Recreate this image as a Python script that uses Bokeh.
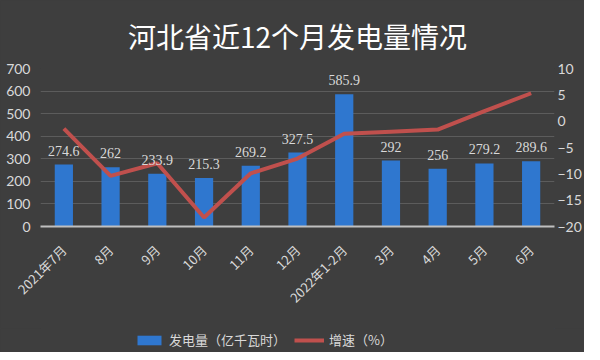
from bokeh.plotting import figure
from bokeh.models import (ColumnDataSource, FactorRange, Range1d, LinearAxis, SingleIntervalTicker,
                          LabelSet, Legend, LegendItem, Title)
from bokeh.layouts import column
from bokeh.embed import file_html
from bokeh.resources import INLINE
import math

months = ["2021年7月", "8月", "9月", "10月", "11月", "12月", "2022年1-2月", "3月", "4月", "5月", "6月"]
generation = [274.6, 262, 233.9, 215.3, 269.2, 327.5, 585.9, 292, 256, 279.2, 289.6]
growth = [-1.4, -10.4, -8.0, -18.3, -9.9, -7.1, -2.4, -2.0, -1.6, 1.9, 5.3]
gen_labels = ["274.6", "262", "233.9", "215.3", "269.2", "327.5", "585.9", "292", "256", "279.2", "289.6"]
series_names = ["发电量（亿千瓦时）", "增速（%）"]

BG = "#3e3e3e"
TXT = "#d9d9d9"
BAR = "#2f77cf"
LINE = "#c0504d"
CJK = "Noto Sans CJK SC"
NUM = "Lato"

src = ColumnDataSource(dict(m=months, g=generation, r=growth, lab=gen_labels))

p = figure(width=584, height=328, x_range=FactorRange(*months), y_range=Range1d(0, 700),
           output_backend="svg", toolbar_location=None,
           min_border_left=40, min_border_right=30, min_border_top=64, min_border_bottom=102)
p.background_fill_color = BG
p.border_fill_color = BG
p.outline_line_color = None
p.extra_y_ranges = {"pct": Range1d(-20, 10)}

p.title = Title(text="河北省近12个月发电量情况", align="center", text_font=CJK,
                text_font_size="28px", text_color="#ffffff", text_font_style="normal", standoff=26)

bars = p.vbar(x="m", top="g", width=0.39, source=src, fill_color=BAR, line_color=None)
line = p.line(x="m", y="r", source=src, y_range_name="pct", line_color=LINE, line_width=4)

labels = LabelSet(x="m", y="g", text="lab", source=src, text_align="center", text_baseline="bottom",
                  y_offset=9, text_font=NUM, text_font_size="14px", text_color=TXT)
p.add_layout(labels)

ya = p.yaxis[0]
ya.ticker = SingleIntervalTicker(interval=100)
ra = LinearAxis(y_range_name="pct", ticker=SingleIntervalTicker(interval=5))
p.add_layout(ra, "right")
for ax, so in ((ya, 10), (ra, 3)):
    ax.axis_line_color = None
    ax.major_tick_line_color = None
    ax.minor_tick_line_color = None
    ax.major_tick_out = 0
    ax.major_tick_in = 0
    ax.minor_tick_out = 0
    ax.minor_tick_in = 0
    ax.major_label_standoff = so
    ax.major_label_text_color = TXT
    ax.major_label_text_font = NUM
    ax.major_label_text_font_size = "14px"

xa = p.xaxis[0]
xa.axis_line_color = "#bfbfbf"
xa.axis_line_width = 2
xa.major_tick_line_color = None
xa.minor_tick_line_color = None
xa.major_tick_out = 0
xa.minor_tick_out = 0
xa.major_label_orientation = math.pi / 4
xa.major_label_text_color = TXT
xa.major_label_text_font = CJK
xa.major_label_text_font_size = "13px"
xa.major_label_standoff = 21

p.xgrid.grid_line_color = None
p.ygrid.grid_line_color = "#5c5c5c"
p.ygrid.grid_line_width = 1

# legend strip below the chart
lg = figure(width=584, height=24, x_range=Range1d(0, 1), y_range=Range1d(0, 1),
            x_axis_type=None, y_axis_type=None,
            output_backend="svg", toolbar_location=None,
            min_border=0, min_border_left=0, min_border_right=0, min_border_top=0, min_border_bottom=0)
lg.background_fill_color = BG
lg.border_fill_color = BG
lg.outline_line_color = None
lb = lg.vbar(x=[5], top=[5], bottom=[4], width=0.4, fill_color=BAR, line_color=None)
ll = lg.line(x=[5, 6], y=[5, 5], line_color=LINE, line_width=4)
legend = Legend(items=[LegendItem(label=series_names[0], renderers=[lb]),
                       LegendItem(label=series_names[1], renderers=[ll])],
                orientation="horizontal", location=(94, 3),
                background_fill_alpha=0, border_line_color=None,
                label_text_color=TXT, label_text_font=CJK, label_text_font_size="13px",
                glyph_width=30, glyph_height=12, spacing=8, label_standoff=5, margin=0, padding=2)
lg.add_layout(legend, "center")

layout = column(p, lg, spacing=0, styles={"background-color": BG})
open("out.html", "w").write(file_html(layout, INLINE))
